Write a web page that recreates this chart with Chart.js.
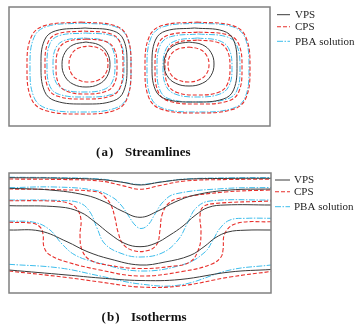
<!DOCTYPE html>
<html>
<head>
<meta charset="utf-8">
<script src="https://cdn.jsdelivr.net/npm/chart.js@4.4.0/dist/chart.umd.min.js"></script>
<style>
  html, body { margin: 0; padding: 0; background: #fff; }
  #wrap { position: relative; width: 360px; height: 325px; }
  canvas { position: absolute; left: 0; }
</style>
</head>
<body>
<div id="wrap">
  <canvas id="streamlines" width="360" height="165" style="top:0"></canvas>
  <canvas id="isotherms" width="360" height="160" style="top:165px"></canvas>
</div>
<script>
// series names, in legend order
const seriesNames = ['VPS', 'CPS', 'PBA solution'];

// (a) streamlines: closed curves as [x, y], cavity is 261 x 119 units
// left cell first, then right cell, outer to inner
const streamVPS = [
  [[76,98],[104.3,95.1],[114.7,85.9],[118,61],[114.7,34.8],[104.3,25.1],[76,22],[46.4,25.1],[35.5,34.8],[32,61],[35.5,85.9],[46.4,95.1]],
  [[77,84],[89.8,81.2],[98,73.5],[101,61.5],[98,49.5],[89.8,41.8],[77,39],[64.2,41.8],[56,49.5],[53,61.5],[56,73.5],[64.2,81.2]],
  [[185.5,98],[214.1,95.1],[224.6,85.9],[228,61],[224.6,36.1],[214.1,26.9],[185.5,24],[156.9,26.9],[146.4,36.1],[143,61],[146.4,85.9],[156.9,95.1]],
  [[180,84],[193.3,81.3],[201.9,73.7],[205,62],[201.9,50.3],[193.3,42.7],[180,40],[166.7,42.7],[158.1,50.3],[155,62],[158.1,73.7],[166.7,81.3]]
];
const streamCPS = [
  [[72,104],[105.7,100.4],[118.1,89.3],[122,59],[118.1,27.4],[105.7,15.7],[72,12],[35.7,15.7],[22.3,27.4],[18,59],[22.3,89.3],[35.7,100.4]],
  [[75,95],[101.2,92.3],[110.9,83.9],[114,61],[110.9,38.1],[101.2,29.7],[75,27],[48.8,29.7],[39.1,38.1],[36,61],[39.1,83.9],[48.8,92.3]],
  [[77.5,87],[96.7,84.5],[105.3,76.8],[108,59.5],[105.3,42.2],[96.7,34.5],[77.5,32],[58.3,34.5],[49.7,42.2],[47,59.5],[49.7,76.8],[58.3,84.5]],
  [[79.5,80],[89.9,77.8],[96.6,71.6],[99,62],[96.6,52.4],[89.9,46.2],[79.5,44],[69.1,46.2],[62.4,52.4],[60,62],[62.4,71.6],[69.1,77.8]],
  [[188,104],[223.7,100.4],[236.8,89],[241,58],[236.8,27.7],[223.7,16.6],[188,13],[153,16.6],[140.1,27.7],[136,58],[140.1,89],[153,100.4]],
  [[189.5,94],[218.8,91.2],[229.6,82.2],[233,58],[229.6,33.8],[218.8,24.8],[189.5,22],[160.2,24.8],[149.4,33.8],[146,58],[149.4,82.2],[160.2,91.2]],
  [[188.5,86],[209,83.5],[218.1,75.8],[221,58.5],[218.1,41.2],[209,33.5],[188.5,31],[168,33.5],[158.9,41.2],[156,58.5],[158.9,75.8],[168,83.5]],
  [[179.5,79],[190.4,76.8],[197.5,70.8],[200,61.5],[197.5,52.2],[190.4,46.2],[179.5,44],[168.6,46.2],[161.5,52.2],[159,61.5],[161.5,70.8],[168.6,76.8]]
];
const streamPBA = [
  [[72,103],[105.7,99.5],[118.1,88.6],[122,59],[118.1,28.7],[105.7,17.6],[72,14],[37.7,17.6],[25,28.7],[21,59],[25,88.6],[37.7,99.5]],
  [[76.5,93],[102.4,90.5],[112,82.5],[115,61],[112,39.5],[102.4,31.5],[76.5,29],[50.6,31.5],[41,39.5],[38,61],[41,82.5],[50.6,90.5]],
  [[75,88],[94.5,85.6],[103.2,78],[106,61],[103.2,44],[94.5,36.4],[75,34],[55.5,36.4],[46.8,44],[44,61],[46.8,78],[55.5,85.6]],
  [[189,103],[223.3,99.4],[236,88.3],[240,58],[236,28.4],[223.3,17.5],[189,14],[154.7,17.5],[142,28.4],[138,58],[142,88.3],[154.7,99.4]],
  [[189.5,92],[217.4,89.3],[227.7,80.9],[231,58],[227.7,35.1],[217.4,26.7],[189.5,24],[161.6,26.7],[151.3,35.1],[148,58],[151.3,80.9],[161.6,89.3]],
  [[188.5,88],[210.2,85.3],[219.9,77.1],[223,58.5],[219.9,39.9],[210.2,31.7],[188.5,29],[166.8,31.7],[157.1,39.9],[154,58.5],[157.1,77.1],[166.8,85.3]]
];

// (b) isotherms: open curves wall to wall, cavity is 262 x 120 units, top to bottom
const isoVPS = [
  [[0,115.3],[51,114.8],[91,113.5],[113,110.8],[131,108],[151,110.8],[176,113.7],[221,114.6],[262,114.7]],
  [[0,104.7],[41,103],[76,98],[96,91],[113,82],[131,75.7],[149,82],[166,91],[186,98],[221,103],[262,104]],
  [[0,87.3],[51,86],[71,81],[86,71],[101,59],[116,49.5],[131,46.3],[146,49.5],[161,58],[174,67],[186,77.5],[199,85.5],[216,88],[262,88]],
  [[0,63],[31,62],[58,51.3],[78,41.5],[101,34],[131,28],[156,31],[181,37.5],[196,47],[206,55],[219,61],[236,62.8],[262,63]],
  [[0,23],[58,18],[91,15],[131,12.5],[171,13.5],[221,21],[262,23.5]]
];
const isoCPS = [
  [[0,114],[51,113.5],[91,112],[113,107.5],[131,103.7],[151,107.5],[176,112],[221,113.5],[262,113.7]],
  [[0,104],[51,103.2],[89,101],[96,96],[102,88],[106,75],[109,61],[114,49],[124,42.5],[139,42.5],[148,49],[151,63],[153,78],[159,89],[169,94.5],[216,101],[262,103]],
  [[0,92.3],[41,92],[59,90],[68,84],[72,73],[71,58],[73,43],[81,33],[101,27.5],[131,24.5],[161,26.5],[181,31],[190,45],[192,61],[191,77],[194,86],[206,89.5],[262,92]],
  [[0,70.7],[24,69.7],[31,66],[34,59],[35,46],[41,38],[58,31],[91,23],[131,17],[176,22],[203,29],[212,36],[214,43],[216,60],[228,69.7],[262,71.3]],
  [[0,22],[58,15.5],[91,11],[131,6],[171,7],[221,16],[262,21.5]]
];
const isoPBA = [
  [[0,115.8],[51,115.3],[91,114],[113,111],[131,108.5],[151,111],[176,114],[221,115.2],[262,115.5]],
  [[0,105.3],[46,106],[86,102.7],[103,96],[112,88],[119,78],[126,68],[132,64.5],[139,68],[146,79],[154,91],[166,99],[216,104.5],[262,105.5]],
  [[0,93],[51,92.5],[71,90],[81,81],[88,65],[96,49],[113,39.3],[131,36],[153,40],[169,53],[179,71],[187,85],[201,92],[262,93]],
  [[0,72],[26,70.5],[41,63],[53,49],[66,38],[86,31],[131,22],[176,29],[196,41],[204,53],[211,64.7],[221,73],[238,74.7],[262,74.7]],
  [[0,28.7],[51,25],[91,17],[131,9],[171,8],[221,23],[262,28]]
];

// line look for each series
const seriesStyle = [
  {color: '#3a3a3a', dash: [], width: 1},
  {color: '#e8302c', dash: [4, 2], width: 1.1},
  {color: '#3dbdec', dash: [6, 1.5, 1.5, 1.5], width: 1}
];

function curveSets(groups, closed) {
  let sets = [];
  groups.forEach(function(curves, s) {
    curves.forEach(function(c) {
      let pts = c.map(p => ({x: p[0], y: p[1]}));
      if (closed) pts.push({x: c[0][0], y: c[0][1]});
      sets.push({
        label: seriesNames[s],
        data: pts,
        showLine: true,
        borderColor: seriesStyle[s].color,
        borderDash: seriesStyle[s].dash,
        borderWidth: seriesStyle[s].width,
        pointRadius: 0,
        tension: 0.4,
        fill: false
      });
    });
  });
  return sets;
}

// frame, legend and caption
const figurePlugin = {
  id: 'figureLabels',
  afterDraw(chart, args, o) {
    const ctx = chart.ctx, a = chart.chartArea;
    ctx.save();
    ctx.setLineDash([]);
    ctx.strokeStyle = '#808080';
    ctx.lineWidth = 1.5;
    ctx.strokeRect(a.left, a.top, a.right - a.left, a.bottom - a.top);

    seriesNames.forEach(function(name, i) {
      const y = o.rows[i];
      ctx.beginPath();
      ctx.setLineDash(seriesStyle[i].dash);
      ctx.strokeStyle = seriesStyle[i].color;
      ctx.lineWidth = seriesStyle[i].width;
      ctx.moveTo(o.lineFrom, y);
      ctx.lineTo(o.lineTo, y);
      ctx.stroke();
      ctx.setLineDash([]);
      ctx.fillStyle = '#1e1e1e';
      ctx.font = '11px "Liberation Serif"';
      ctx.textBaseline = 'middle';
      ctx.fillText(name, o.textX, y + 0.5);
    });

    ctx.fillStyle = '#111';
    ctx.font = 'bold 13px "Liberation Serif"';
    ctx.textBaseline = 'alphabetic';
    ctx.fillText(o.tag, o.tagX, o.baseline);
    ctx.fillText(o.caption, o.captionX, o.baseline);
    ctx.restore();
  }
};

function makeChart(id, sets, xMax, yMax, pad, labels) {
  return new Chart(document.getElementById(id), {
    type: 'scatter',
    data: {datasets: sets},
    plugins: [figurePlugin],
    options: {
      responsive: false,
      animation: false,
      events: [],
      layout: {padding: pad},
      scales: {
        x: {type: 'linear', min: 0, max: xMax, display: false},
        y: {type: 'linear', min: 0, max: yMax, display: false}
      },
      plugins: {
        legend: {display: false},
        tooltip: {enabled: false},
        figureLabels: labels
      }
    }
  });
}

makeChart('streamlines', curveSets([streamVPS, streamCPS, streamPBA], true), 261, 119,
  {left: 9, top: 7, right: 90, bottom: 39},
  {rows: [14.7, 26.7, 41.3], lineFrom: 277, lineTo: 290, textX: 295,
   tag: '(\u200Aa\u200A)', tagX: 96, caption: 'Streamlines', captionX: 125, baseline: 155.5});

makeChart('isotherms', curveSets([isoVPS, isoCPS, isoPBA], false), 262, 120,
  {left: 9, top: 8, right: 89, bottom: 32},
  {rows: [15, 26.7, 41.7], lineFrom: 275, lineTo: 290, textX: 294,
   tag: '(\u200Ab\u200A)', tagX: 101.5, caption: 'Isotherms', captionX: 131, baseline: 155.7});
</script>
</body>
</html>
